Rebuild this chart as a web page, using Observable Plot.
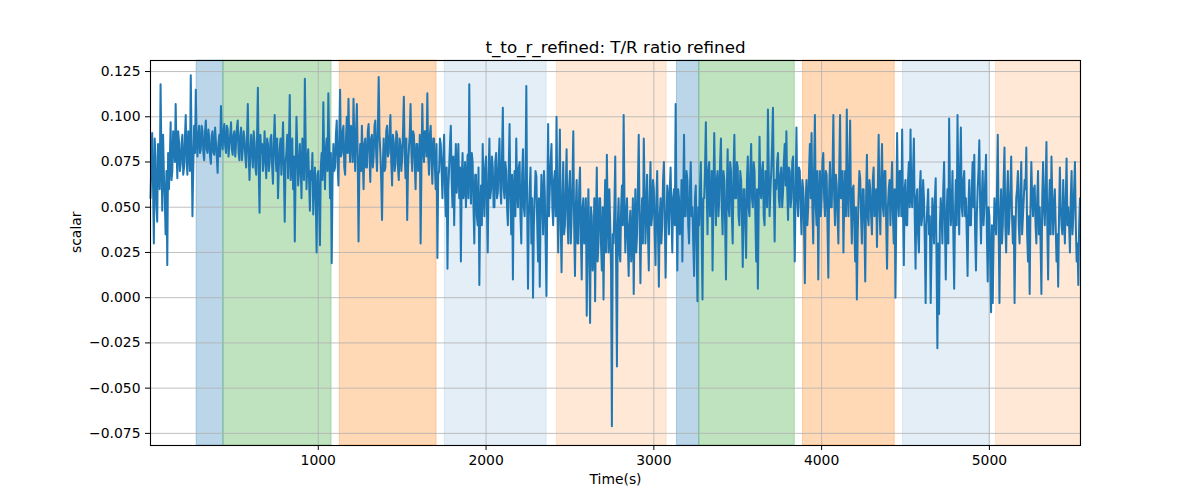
<!DOCTYPE html>
<html><head><meta charset="utf-8">
<script src="https://cdn.jsdelivr.net/npm/d3@7"></script>
<script src="https://cdn.jsdelivr.net/npm/@observablehq/plot@0.6"></script>
<style>body{margin:0;background:#fff;} #chart svg{display:block;}</style>
</head><body><div id="chart"></div>
<script>
// Series read every 5 s: the "seg" arrays hold the samples at start + 10*i,
// the "mid" arrays the samples at start + 5 + 10*i.
const STEP = 10;
const segStarts = [0, 960, 1880, 2810, 3730, 4650];
const segA = [
.055,.091,.030,.078,.042,.072,.118,.048,.068,.035,
.018,.060,.097,.070,.086,.107,.066,.086,.074,.090,
.072,.101,.068,.084,.123,.045,.095,.115,.078,.095,
.082,.092,.076,.098,.080,.088,.074,.092,.079,.086,
.069,.090,.106,.082,.096,.080,.093,.084,.097,.079,
.092,.085,.098,.076,.094,.082,.088,.072,.107,.065,
.090,.072,.086,.068,.116,.047,.080,.070,.092,.066,
.085,.075,.090,.063,.101,.070,.055,.083,.068,.097,
.042,.080,.066,.112,.072,.060,.031,.100,.062,.085,
.055,.078,.121,.060,.082,.048];
const midA = [
.075,.062,.088,.050,.085,.060,.080,.090,.055,.070,
.080,.075,.065,.092,.075,.082,.092,.070,.085,.068,
.088,.075,.092,.070,.085,.072,.080,.088,.090,.080,
.095,.080,.092,.082,.093,.078,.090,.080,.094,.078,
.085,.078,.088,.092,.084,.095,.078,.090,.082,.090,
.078,.094,.080,.090,.076,.092,.078,.088,.080,.080,
.080,.092,.072,.088,.070,.090,.085,.078,.075,.088,
.070,.088,.072,.085,.080,.088,.072,.088,.082,.070,
.075,.090,.085,.065,.088,.078,.070,.082,.070,.072,
.088,.065,.085,.075,.065,.070];
const segB = [
.065,.046,.072,.025,.070,.029,.080,.108,.060,.088,
.113,.055,.019,.085,.072,.098,.062,.115,.080,.095,
.068,.100,.110,.075,.092,.110,.070,.107,.031,.085,
.095,.060,.088,.072,.096,.064,.090,.078,.098,.070,
.122,.080,.043,.088,.072,.095,.080,.101,.062,.086,
.074,.090,.065,.084,.077,.111,.066,.043,.082,.107,
.070,.090,.060,.085,.072,.030,.107,.075,.092,.113,
.068,.095,.063,.088,.060,.022,.070,.085,.055,.090,
.045,.016,.072,.095,.050,.040,.085,.070,.055,.020,
.080,.060];
const midB = [
.080,.062,.055,.068,.052,.072,.065,.078,.082,.070,
.085,.080,.065,.070,.090,.075,.088,.078,.092,.072,
.088,.080,.085,.095,.075,.085,.092,.078,.072,.070,
.078,.085,.072,.092,.080,.088,.072,.095,.080,.092,
.090,.065,.075,.070,.092,.078,.092,.075,.090,.070,
.092,.072,.088,.070,.092,.080,.088,.072,.090,.080,
.092,.075,.085,.070,.090,.072,.082,.092,.078,.080,
.090,.075,.088,.072,.085,.068,.088,.070,.078,.060,
.072,.060,.085,.065,.078,.070,.058,.085,.072,.065,
.055,.075];
const segC = [
.050,.079,.118,.052,.075,.030,.068,.040,.007,.062,
.085,.045,.078,.025,.088,.060,.072,.050,.080,.058,
.088,.052,.105,.055,.070,.040,.096,.035,.010,.070,
.088,.050,.075,.030,.082,.045,.117,.005,.060,.030,
.000,.055,.067,.020,.006,.068,.035,.058,.001,.096,
.060,.085,.040,.070,.100,.025,.093,.014,.075,.040,
.082,.030,.070,.045,.092,.012,.065,.030,.072,.010,
.055,.040,-.010,.060,-.014,.045,.020,-.002,.072,.030,
.055,.015,-.001,.065,.079,.025,.040,-.071,.030,.078,
-.038,.055,.020];
const midC = [
.065,.055,.070,.080,.050,.068,.045,.072,.050,.040,
.060,.072,.050,.068,.055,.078,.050,.075,.055,.075,
.060,.078,.060,.075,.050,.070,.055,.068,.060,.045,
.060,.072,.045,.068,.050,.065,.050,.045,.072,.055,
.040,.070,.040,.055,.045,.055,.070,.030,.055,.045,
.075,.050,.065,.045,.055,.060,.040,.055,.035,.060,
.045,.060,.030,.065,.040,.050,.030,.060,.035,.050,
.030,.055,.035,.025,.050,.015,.055,.040,.020,.055,
.030,.050,.040,.025,.045,.060,.015,.035,.050,.020,
.040,.025,.050];
const segD = [
.062,.101,.025,.055,.012,.048,.030,.002,.060,.035,
.090,.008,.055,.088,.030,.068,.015,.075,.045,.060,
.018,.070,.006,.055,.040,.075,.011,.062,.035,.072,
.025,.060,.107,.015,.055,.040,.020,.090,.045,.065,
.030,.075,.050,.012,.062,-.002,.040,.075,-.001,.055,
.097,.035,.075,.048,.015,.091,.040,.070,.055,.088,
.035,.065,.010,.082,.045,.070,.030,.090,.055,.072,
.040,.065,.017,.060,.022,.078,.045,.085,.050,.070,
.020,.005,.089,.055,.075,.040,.062,.104,.045,.070,
.105,.031];
const midD = [
.040,.055,.045,.030,.040,.020,.055,.040,.025,.062,
.045,.040,.030,.060,.050,.035,.055,.040,.065,.035,
.055,.035,.045,.030,.065,.045,.040,.055,.060,.045,
.055,.040,.050,.060,.035,.065,.055,.045,.070,.040,
.060,.045,.030,.055,.030,.050,.060,.035,.055,.070,
.060,.070,.045,.070,.055,.060,.065,.045,.075,.050,
.070,.040,.060,.050,.075,.045,.070,.055,.075,.045,
.070,.045,.060,.040,.065,.050,.070,.055,.075,.045,
.060,.050,.060,.070,.045,.070,.050,.070,.060,.085,
.060,.065];
const segE = [
.060,.080,.050,.072,.058,.085,.092,.043,.070,.055,
.078,.020,.094,.045,.070,.035,.060,.008,.065,.050,
.085,.091,.030,.101,.040,.010,.070,.055,.080,.045,
.068,.011,.075,.050,.101,.040,.062,.030,.101,.055,
.025,.070,.104,.045,.098,.030,.062,.020,-.001,.055,
.066,.030,.060,.009,.079,.040,.060,.035,.072,.050,
.028,.090,.035,.085,.045,.070,.016,.060,.040,.075,
.030,.000,.091,.045,.070,.093,.018,.065,.040,.075,
.093,.050,.088,.016,.060,.025,.070,.045,.055,-.003,
.050,.035];
const midE = [
.075,.055,.068,.050,.075,.062,.060,.072,.050,.075,
.050,.060,.055,.072,.050,.065,.040,.055,.040,.070,
.055,.050,.070,.050,.070,.055,.045,.075,.055,.070,
.040,.060,.050,.070,.055,.068,.045,.070,.055,.070,
.055,.045,.060,.070,.050,.060,.040,.050,.035,.070,
.045,.060,.040,.055,.045,.065,.045,.065,.045,.060,
.060,.050,.065,.050,.070,.040,.050,.065,.060,.045,
.060,.045,.055,.070,.045,.050,.060,.040,.065,.050,
.055,.070,.045,.055,.035,.060,.040,.065,.030,.040,
.060,.045];
const segF = [
-.003,.055,.030,.066,-.028,-.009,.055,.030,.075,.010,
.060,.099,.040,.070,.005,.065,.101,.035,.094,.045,
.070,.055,.012,.065,.040,.075,.079,.015,.060,.087,
.030,.070,.050,.079,.009,.045,-.008,-.003,.055,.035,
.090,-.003,.060,.040,.083,.025,.070,.045,.078,.030,
-.003,.055,.070,.030,.075,.045,.065,.083,.020,.002,
.075,.045,.062,.030,.070,.050,.002,.075,.040,.086,
.010,.065,.078,.035,.060,.020,.006,.072,.040,.065,
.030,.077,.050,.025,.070,.045,.075,.020,.007,.055];
const midF = [
.025,.045,.055,.020,.030,.040,.045,.060,.040,.045,
.030,.060,.050,.035,.045,.040,.060,.070,.050,.065,
.045,.035,.050,.040,.060,.050,.035,.045,.070,.050,
.055,.040,.065,.035,.050,.020,.040,.030,.045,.060,
.040,.045,.030,.065,.040,.055,.035,.060,.045,.045,
.035,.060,.040,.060,.035,.055,.060,.035,.045,.050,
.055,.060,.040,.055,.035,.030,.055,.050,.060,.040,
.050,.035,.055,.050,.040,.035,.045,.050,.035,.045,
.055,.040,.040,.055,.035,.060,.040,.030,.040];

// Shaded phases
const spanStart = [275, 435, 1128, 1754, 2422, 3138, 3271, 3889, 4485, 5040];
const spanEnd   = [435, 1079, 1705, 2361, 3076, 3271, 3840, 4436, 5000, 5543];
const spanKind  = ["A","B","C","D","E","A","B","C","D","E"];

const xTicks = [1000, 2000, 3000, 4000, 5000];
const yTicks = [-0.075, -0.05, -0.025, 0, 0.025, 0.05, 0.075, 0.1, 0.125];
const titleText = "t_to_r_refined: T/R ratio refined";
const xLabel = "Time(s)";
const yLabel = "scalar";

const kindFill = {A: "#1f77b4", B: "#2ca02c", C: "#ff7f0e", D: "#1f77b4", E: "#ff7f0e"};
const kindAlpha = {A: 0.3, B: 0.3, C: 0.3, D: 0.12, E: 0.17};

const series = [];
[segA, segB, segC, segD, segE, segF].forEach((seg, k) => {
  seg.forEach((v, i) => series.push({t: segStarts[k] + i * STEP, v}));
});
[midA, midB, midC, midD, midE, midF].forEach((seg, k) => {
  seg.forEach((v, i) => series.push({t: segStarts[k] + 5 + i * STEP, v}));
});
series.sort((a, b) => a.t - b.t);
const spans = spanStart.map((s, i) => ({start: s, end: spanEnd[i], kind: spanKind[i]}));

const fs = 13.9;
const chart = Plot.plot({
  width: 1200, height: 500,
  marginLeft: 150, marginRight: 120, marginTop: 60, marginBottom: 55,
  style: {fontFamily: "DejaVu Sans", fontSize: fs + "px", background: "#fff", color: "#000"},
  x: {domain: [0, 5543]},
  y: {domain: [-0.0817, 0.1311]},
  color: {type: "identity"},
  marks: [
    Plot.rect(spans, {x1: "start", x2: "end", fill: d => kindFill[d.kind], fillOpacity: d => kindAlpha[d.kind],
      stroke: d => kindFill[d.kind], strokeOpacity: d => kindAlpha[d.kind], strokeWidth: 1}),
    Plot.gridX(xTicks, {stroke: "#b0b0b0", strokeOpacity: 1, strokeWidth: 0.8}),
    Plot.gridY(yTicks, {stroke: "#b0b0b0", strokeOpacity: 1, strokeWidth: 0.8}),
    Plot.line(series, {x: "t", y: "v", stroke: "#1f77b4", strokeWidth: 2}),
    Plot.frame({stroke: "#000", strokeWidth: 1.1}),
    Plot.axisX(xTicks, {tickSize: 5, tickPadding: 5, label: null, fontSize: fs, tickFormat: d => String(d)}),
    Plot.axisY(yTicks, {tickSize: 5, tickPadding: 5, label: null, fontSize: fs, tickFormat: d3.format(".3f")}),
    Plot.text([titleText], {frameAnchor: "top", dy: -8, lineAnchor: "bottom", fontSize: 16.7}),
    Plot.text([xLabel], {frameAnchor: "bottom", dy: 29, lineAnchor: "top", fontSize: fs}),
    Plot.text([yLabel], {frameAnchor: "left", dx: -74, rotate: -90, fontSize: fs})
  ]
});
document.getElementById("chart").appendChild(chart);
</script>
</body></html>
